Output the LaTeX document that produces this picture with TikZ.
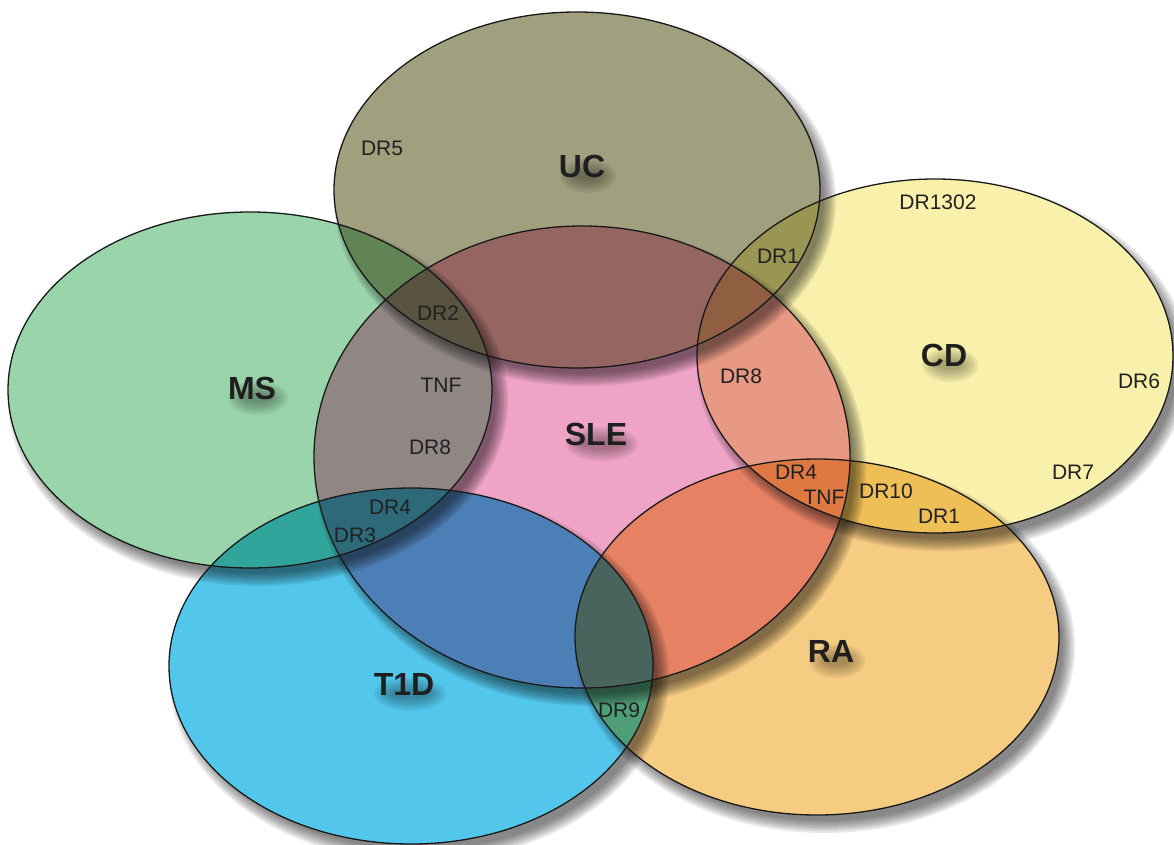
\documentclass[tikz,border=0pt]{standalone}
\usepackage{fontspec}
\setmainfont{Liberation Sans}
\definecolor{cUC}{HTML}{A09F7E}
\definecolor{cMS}{HTML}{9AD4AA}
\definecolor{cSLE}{HTML}{EFA3C6}
\definecolor{cCD}{HTML}{F8F0AB}
\definecolor{cRA}{HTML}{F6CB82}
\definecolor{cTID}{HTML}{52C7EB}
\newcommand\dshadow[4]{%
  \foreach \k in {0,...,6}{%
    \begin{scope}
      \clip (#1+8,#2+10) ellipse [x radius={#3pt+\k*2pt-4pt}, y radius={#4pt+\k*2pt-4pt}];
      \fill[black,opacity=0.085,even odd rule] (-20,-20) rectangle (1200,870) (#1,#2) ellipse [x radius=#3pt, y radius=#4pt];
    \end{scope}}}
\newcommand\setell[5]{%
  \fill[#5] (#1,#2) ellipse [x radius=#3pt, y radius=#4pt];}
\newcommand\outell[4]{%
  \draw[outline] (#1,#2) ellipse [x radius=#3pt, y radius=#4pt];}
\newcommand\tshadow[3]{% x y halfwidth
  \foreach \k in {0,...,5}{%
    \fill[black,opacity=0.06] (#1+6,#2+10) ellipse [x radius={#3pt+6pt-\k*3pt}, y radius={17pt-\k*2.4pt}];}}
\begin{document}
\begin{tikzpicture}[x=1pt,y=-1pt,
  big/.style={font=\fontsize{32}{36}\selectfont\bfseries, text=black!88, inner sep=0pt},
  small/.style={font=\fontsize{21}{24}\selectfont, text=black!87, inner sep=0pt},
  outline/.style={draw=black!90, line width=1.3pt}]
\useasboundingbox (0,0) rectangle (1174,845);
\fill[white] (0,0) rectangle (1174,845);
\begin{scope}[blend group=multiply]
  \dshadow{577}{190}{243}{178}
  \dshadow{250}{390}{242}{178}
  \dshadow{582}{457}{268}{231}
  \dshadow{935}{356}{238}{177}
  \dshadow{817}{637}{242}{178}
  \dshadow{411}{666}{242}{178}
  \setell{577}{190}{243}{178}{cUC}
  \setell{250}{390}{242}{178}{cMS}
  \setell{582}{457}{268}{231}{cSLE}
  \setell{935}{356}{238}{177}{cCD}
  \setell{817}{637}{242}{178}{cRA}
  \setell{411}{666}{242}{178}{cTID}
\end{scope}
\outell{577}{190}{243}{178}
\outell{250}{390}{242}{178}
\outell{582}{457}{268}{231}
\outell{935}{356}{238}{177}
\outell{817}{637}{242}{178}
\outell{411}{666}{242}{178}
% soft shadows under the big labels
\tshadow{582}{166}{22}
\tshadow{252}{388}{24}
\tshadow{596}{434}{30}
\tshadow{944}{355}{22}
\tshadow{831}{651}{22}
\tshadow{404}{684}{30}
% big labels
\node[big] (UC) at (582,166) {UC};
\node[big] (MS) at (252,388) {MS};
\node[big] (SLE) at (596,434) {SLE};
\node[big] (CD) at (944,355) {CD};
\node[big] (RA) at (831,651) {RA};
\node[big] (T1D) at (404,684) {T1D};
% small labels
\node[small] (dr5) at (382,148) {DR5};
\node[small] (dr2) at (438,313) {DR2};
\node[small] (tnfL) at (441,385) {TNF};
\node[small] (dr8L) at (430,447) {DR8};
\node[small] (dr4L) at (390,507) {DR4};
\node[small] (dr3) at (355,535) {DR3};
\node[small] (dr1T) at (778,256) {DR1};
\node[small] (dr1302) at (938,202) {DR1302};
\node[small] (dr8R) at (741,376) {DR8};
\node[small] (dr6) at (1139,381) {DR6};
\node[small] (dr7) at (1073,472) {DR7};
\node[small] (dr4R) at (796,472) {DR4};
\node[small] (tnfR) at (824,497) {TNF};
\node[small] (dr10) at (886,491) {DR10};
\node[small] (dr1B) at (939,516) {DR1};
\node[small] (dr9) at (619,710) {DR9};
\end{tikzpicture}
\end{document}
